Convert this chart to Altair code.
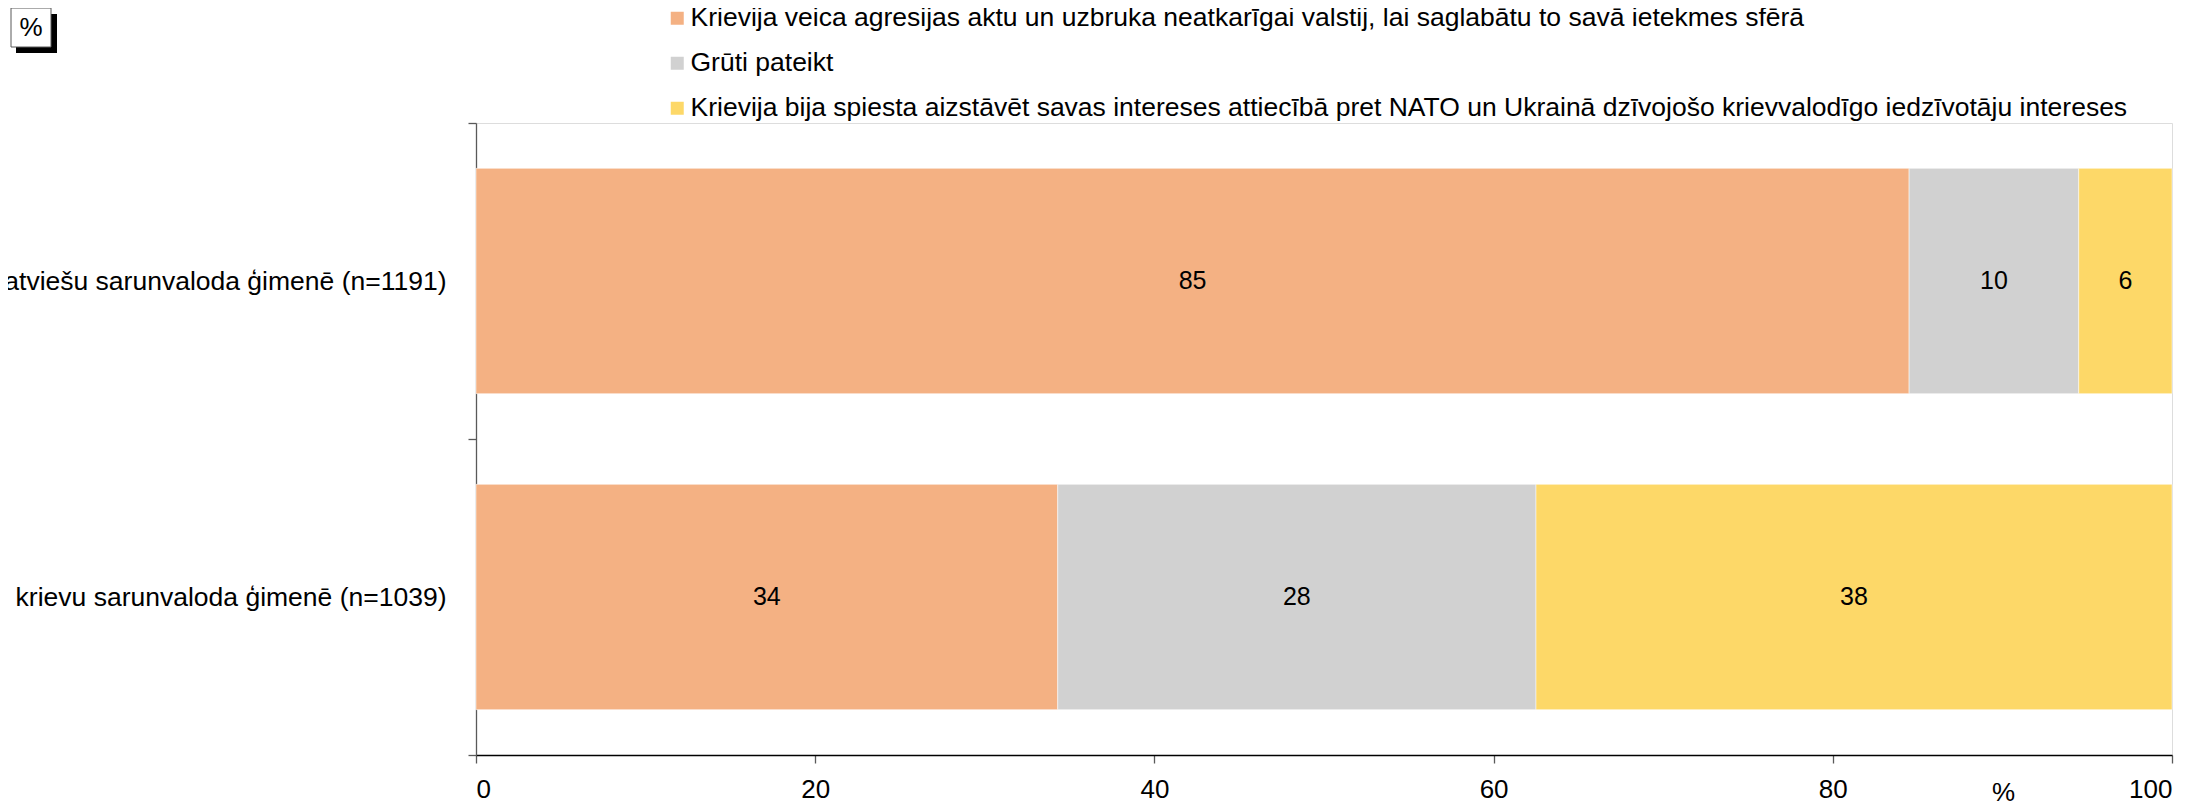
import altair as alt
import pandas as pd

groups = ["latviešu sarunvaloda ģimenē (n=1191)", "krievu sarunvaloda ģimenē (n=1039)"]
answers = [
    "Krievija veica agresijas aktu un uzbruka neatkarīgai valstij, lai saglabātu to savā ietekmes sfērā",
    "Grūti pateikt",
    "Krievija bija spiesta aizstāvēt savas intereses attiecībā pret NATO un Ukrainā dzīvojošo krievvalodīgo iedzīvotāju intereses",
]
colors = ["#F4B183", "#D1D1D1", "#FDD868"]
values_latv = [84.5, 10.0, 5.5]
values_kriev = [34.3, 28.2, 37.5]
labels_latv = ["85", "10", "6"]
labels_kriev = ["34", "28", "38"]
x_ticks = [0, 20, 40, 60, 80, 100]

rows = []
for g, vals, labs in [(groups[0], values_latv, labels_latv), (groups[1], values_kriev, labels_kriev)]:
    for i, (a, v, l) in enumerate(zip(answers, vals, labs)):
        rows.append({"group": g, "answer": a, "idx": i, "value": v, "label": l})
df = pd.DataFrame(rows)

FONT = "Liberation Sans"

y_scale = alt.Scale(paddingInner=0, paddingOuter=0)

y_enc = alt.Y(
    "group:N",
    sort=groups,
    title=None,
    scale=y_scale,
    axis=alt.Axis(
        tickBand="extent",
        labelFontSize=26.5,
        labelFont=FONT,
        labelColor="#000000",
        labelPadding=22,
        labelLimit=1000,
        tickSize=8,
        tickColor="#595959",
        domainColor="#595959",
        domainWidth=1.3,
        tickWidth=1.3,
        grid=False,
    ),
)

x_scale = alt.Scale(domain=[0, 100], nice=False)

bars = alt.Chart(df).mark_bar(stroke="#ffffff", strokeWidth=0.5, height={"band": 0.713}).encode(
    x=alt.X(
        "value:Q",
        stack="zero",
        scale=x_scale,
        title="%",
        axis=alt.Axis(
            values=x_ticks,
            labelFontSize=26,
            labelFont=FONT,
            labelColor="#000000",
            labelPadding=13,
            tickSize=8,
            tickColor="#595959",
            tickWidth=1.3,
            domainColor="#000000",
            domainWidth=1.5,
            grid=False,
            titleFont=FONT,
            titleFontSize=26,
            titleFontWeight="normal",
            titleColor="#000000",
            titleX=1527,
            titleY=45,
            titleAlign="center",
            titleBaseline="alphabetic",
            titleAnchor="start",
        ),
    ),
    y=y_enc,
    color=alt.Color(
        "answer:N",
        scale=alt.Scale(domain=answers, range=colors),
        title=None,
        legend=alt.Legend(
            orient="none",
            legendX=184,
            legendY=-118,
            direction="vertical",
            symbolType="square",
            symbolSize=169,
            symbolStrokeWidth=0,
            symbolOpacity=1,
            symbolOffset=4,
            labelFont=FONT,
            labelFontSize=26.5,
            labelColor="#000000",
            labelLimit=2000,
            labelOffset=0,
            rowPadding=18,
            padding=0,
        ),
    ),
    order=alt.Order("idx:Q"),
)

texts = alt.Chart(df).transform_window(
    cum="sum(value)", groupby=["group"], sort=[alt.SortField("idx")]
).transform_calculate(
    mid="datum.cum - datum.value / 2"
).mark_text(font=FONT, fontSize=25, color="#000000", baseline="middle", align="center").encode(
    x=alt.X("mid:Q", scale=x_scale),
    y=alt.Y("group:N", sort=groups, scale=y_scale),
    text="label:N",
)

one = pd.DataFrame({"k": [0]})
shadow = alt.Chart(one).mark_rect(color="#000000").encode(
    x=alt.value(-460), x2=alt.value(-419), y=alt.value(-109), y2=alt.value(-70)
)
box = alt.Chart(one).mark_rect(fill="#ffffff", stroke="#595959", strokeWidth=1).encode(
    x=alt.value(-465), x2=alt.value(-425), y=alt.value(-115), y2=alt.value(-76)
)
pct = alt.Chart(one).mark_text(font=FONT, fontSize=26, color="#000000", align="center", baseline="middle").encode(
    x=alt.value(-445), y=alt.value(-95), text=alt.value("%")
)

chart = alt.layer(bars, texts, shadow, box, pct).properties(
    width=1696,
    height=632,
    autosize=alt.AutoSizeParams(type="none"),
    padding={"left": 468, "top": 115, "right": 18, "bottom": 52},
).configure_view(stroke=None).configure(background="#ffffff")

chart.save("out.html", embed_options={"renderer": "svg", "actions": False})
